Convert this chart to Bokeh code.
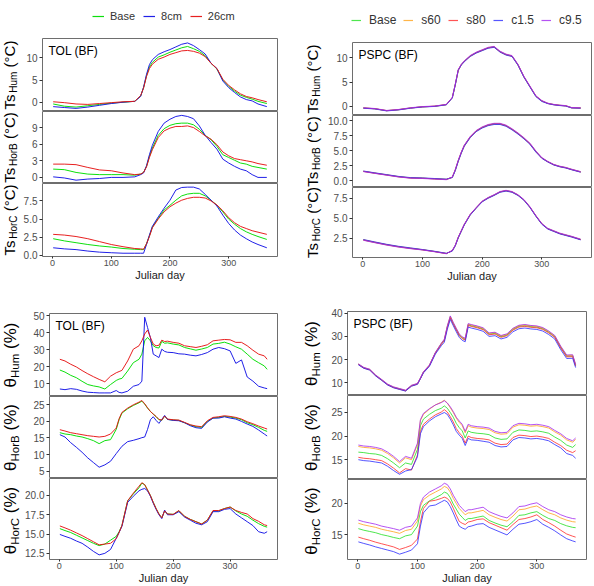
from math import pi

from bokeh.plotting import figure
from bokeh.layouts import column, row
from bokeh.core.properties import value
from bokeh.models import FixedTicker, PrintfTickFormatter, Label, Legend, LegendItem, Range1d
from bokeh.embed import file_html
from bokeh.resources import INLINE

FONT = "Liberation Sans"

# ---------------------------------------------------------------- data
days_t = [1, 20, 40, 60, 80, 100, 120, 140, 150, 155, 160, 165, 170, 180, 190, 200,
          210, 220, 230, 240, 250, 260, 270, 280, 290, 300, 310, 320, 330, 340, 350, 365]
days_m = [1, 10, 20, 30, 40, 50, 60, 70, 80, 90, 100, 105, 110, 120, 130, 140, 145, 150,
          155, 160, 165, 170, 175, 180, 185, 190, 200, 210, 220, 230, 240, 250, 260, 270,
          280, 290, 300, 310, 320, 330, 340, 350, 360, 365]

tol_names = ["Base", "8cm", "26cm"]
pspc_names = ["Base", "s60", "s80", "c1.5", "c9.5"]

# TOL soil temperature (°C)
tol_ts_hum_base = [-0.4, -0.9, -1.1, -0.8, -0.5, -0.2, 0.0, 0.2, 1.4, 3.3, 6.0, 8.0, 9.0, 10.2, 10.7, 11.3,
                   11.8, 12.3, 12.6, 12.1, 11.5, 10.5, 8.8, 7.5, 5.0, 3.6, 2.5, 1.6, 1.1, 0.7, 0.2, -0.3]
tol_ts_hum_8cm = [-1.0, -1.2, -1.4, -1.1, -0.7, -0.3, 0.0, 0.2, 1.3, 3.4, 6.3, 8.5, 9.6, 10.8, 11.4, 11.9,
                  12.5, 13.1, 13.4, 12.8, 11.9, 10.9, 8.8, 7.6, 4.8, 3.3, 2.2, 1.2, 0.6, 0.3, -0.4, -1.0]
tol_ts_hum_26cm = [0.1, -0.1, -0.4, -0.5, -0.3, -0.1, 0.1, 0.2, 1.5, 3.2, 5.8, 7.6, 8.6, 9.7, 10.2, 10.8,
                   11.2, 11.6, 11.7, 11.5, 11.1, 10.3, 8.8, 7.6, 5.2, 3.8, 2.8, 1.9, 1.3, 1.0, 0.6, 0.1]

tol_ts_horb_base = [1.5, 1.4, 0.9, 0.6, 0.5, 0.5, 0.5, 0.4, 0.6, 0.9, 2.0, 3.8, 5.3, 7.6, 8.8, 9.4,
                    9.7, 9.8, 9.8, 9.5, 8.7, 7.6, 6.8, 5.6, 4.1, 3.6, 3.1, 2.6, 2.4, 2.0, 1.8, 1.5]
tol_ts_horb_8cm = [0.1, -0.1, -0.5, -0.3, -0.2, 0.0, 0.0, 0.1, 0.5, 0.8, 2.1, 4.1, 5.8, 8.3, 9.8, 10.5,
                   11.0, 11.2, 11.0, 10.6, 9.3, 7.6, 6.3, 5.1, 3.3, 2.6, 2.0, 1.5, 1.2, 0.5, 0.0, 0.0]
tol_ts_horb_26cm = [2.4, 2.4, 2.3, 1.8, 1.35, 1.2, 0.8, 0.5, 0.6, 0.9, 1.9, 3.6, 5.0, 7.2, 8.4, 8.9,
                    9.2, 9.2, 9.3, 9.0, 8.3, 7.5, 6.9, 5.9, 4.6, 3.9, 3.4, 3.2, 3.0, 2.8, 2.5, 2.2]

tol_ts_horc_base = [2.3, 2.0, 1.75, 1.5, 1.3, 1.15, 0.95, 0.85, 0.8, 0.8, 1.6, 2.7, 3.9, 5.1, 6.25, 6.9,
                    7.6, 8.2, 8.45, 8.55, 8.55, 8.2, 7.6, 6.9, 6.0, 5.0, 4.3, 3.7, 3.25, 2.9, 2.6, 2.2]
tol_ts_horc_8cm = [1.05, 0.9, 0.8, 0.6, 0.45, 0.37, 0.3, 0.3, 0.3, 0.3, 1.5, 2.8, 4.0, 5.3, 6.5, 7.6,
                   9.0, 9.35, 9.4, 9.4, 9.15, 8.4, 7.6, 6.8, 5.55, 4.4, 3.5, 2.8, 2.3, 1.85, 1.5, 1.05]
tol_ts_horc_26cm = [2.9, 2.8, 2.6, 2.3, 1.9, 1.5, 1.2, 0.95, 0.9, 0.85, 1.6, 2.6, 3.8, 5.0, 6.0, 6.7,
                    7.2, 7.6, 7.85, 8.0, 8.0, 7.9, 7.5, 6.95, 6.15, 5.2, 4.5, 4.0, 3.7, 3.4, 3.2, 2.9]

# PSPC soil temperature (°C)
pspc_ts_hum_base = [-0.35, -0.5, -0.9, -0.7, -0.35, -0.1, 0.0, 0.35, 1.8, 4.5, 7.5, 8.6, 9.3, 10.4, 11.1, 11.6,
                    12.1, 12.3, 11.3, 10.7, 10.4, 8.6, 6.1, 4.1, 2.1, 1.1, 0.6, 0.35, 0.2, 0.1, -0.3, -0.35]
pspc_ts_hum_s60 = [-0.33, -0.52, -0.88, -0.72, -0.34, -0.12, 0.02, 0.33, 1.75, 4.4, 7.4, 8.55, 9.25, 10.35, 11.05, 11.55,
                   12.15, 12.25, 11.25, 10.65, 10.35, 8.55, 6.05, 4.05, 2.1, 1.1, 0.62, 0.37, 0.22, 0.12, -0.28, -0.33]
pspc_ts_hum_s80 = [-0.37, -0.48, -0.92, -0.68, -0.36, -0.1, 0.01, 0.36, 1.82, 4.55, 7.55, 8.62, 9.32, 10.42, 11.12, 11.62,
                   12.08, 12.32, 11.32, 10.72, 10.42, 8.62, 6.12, 4.12, 2.12, 1.12, 0.58, 0.33, 0.18, 0.08, -0.32, -0.37]
pspc_ts_hum_c15 = [-0.4, -0.55, -0.95, -0.75, -0.4, -0.15, -0.03, 0.3, 1.7, 4.4, 7.45, 8.5, 9.2, 10.3, 11.0, 11.5,
                   12.0, 12.2, 11.2, 10.6, 10.3, 8.5, 6.0, 4.0, 2.0, 1.0, 0.55, 0.3, 0.15, 0.05, -0.35, -0.4]
pspc_ts_hum_c95 = [-0.3, -0.45, -0.85, -0.65, -0.3, -0.05, 0.05, 0.4, 1.85, 4.6, 7.6, 8.7, 9.4, 10.5, 11.2, 11.7,
                   12.2, 12.4, 11.4, 10.8, 10.5, 8.7, 6.2, 4.2, 2.2, 1.2, 0.65, 0.4, 0.25, 0.15, -0.25, -0.3]

pspc_ts_horb_base = [1.6, 1.3, 1.0, 0.7, 0.5, 0.45, 0.35, 0.25, 0.6, 1.8, 3.35, 4.7, 5.85, 7.3, 8.3, 8.9,
                     9.3, 9.5, 9.5, 9.2, 8.6, 7.9, 7.1, 6.2, 4.9, 3.8, 3.2, 2.7, 2.4, 2.2, 1.9, 1.5]
pspc_ts_horb_s60 = [1.62, 1.32, 1.02, 0.72, 0.52, 0.46, 0.36, 0.26, 0.58, 1.75, 3.3, 4.65, 5.8, 7.25, 8.27, 8.88,
                    9.28, 9.48, 9.48, 9.18, 8.58, 7.88, 7.08, 6.18, 4.9, 3.8, 3.22, 2.72, 2.42, 2.22, 1.92, 1.52]
pspc_ts_horb_s80 = [1.58, 1.28, 0.98, 0.68, 0.48, 0.44, 0.34, 0.24, 0.62, 1.85, 3.4, 4.75, 5.9, 7.35, 8.33, 8.92,
                    9.32, 9.52, 9.52, 9.22, 8.62, 7.92, 7.12, 6.22, 4.92, 3.82, 3.18, 2.68, 2.38, 2.18, 1.88, 1.48]
pspc_ts_horb_c15 = [1.65, 1.35, 1.05, 0.75, 0.55, 0.5, 0.4, 0.3, 0.55, 1.7, 3.25, 4.6, 5.75, 7.2, 8.2, 8.8,
                    9.2, 9.4, 9.4, 9.1, 8.5, 7.8, 7.0, 6.1, 4.8, 3.75, 3.15, 2.65, 2.35, 2.15, 1.85, 1.45]
pspc_ts_horb_c95 = [1.55, 1.25, 0.95, 0.65, 0.45, 0.4, 0.3, 0.2, 0.65, 1.9, 3.45, 4.8, 5.95, 7.4, 8.4, 9.0,
                    9.4, 9.6, 9.6, 9.3, 8.7, 8.0, 7.2, 6.3, 5.0, 3.9, 3.25, 2.75, 2.45, 2.25, 1.95, 1.55]

pspc_ts_horc_base = [2.3, 2.0, 1.7, 1.45, 1.25, 1.07, 0.85, 0.6, 0.95, 1.6, 2.6, 3.4, 4.2, 5.45, 6.3, 7.1,
                     7.55, 7.9, 8.3, 8.45, 8.3, 7.9, 7.3, 6.4, 5.3, 4.3, 3.7, 3.4, 3.1, 2.9, 2.7, 2.35]
pspc_ts_horc_s60 = [2.32, 2.02, 1.72, 1.47, 1.27, 1.08, 0.86, 0.61, 0.93, 1.57, 2.57, 3.37, 4.17, 5.42, 6.28, 7.08,
                    7.54, 7.89, 8.29, 8.44, 8.29, 7.89, 7.29, 6.39, 5.3, 4.3, 3.71, 3.41, 3.11, 2.91, 2.71, 2.36]
pspc_ts_horc_s80 = [2.28, 1.98, 1.68, 1.43, 1.23, 1.06, 0.84, 0.59, 0.97, 1.63, 2.63, 3.43, 4.23, 5.48, 6.32, 7.12,
                    7.56, 7.91, 8.31, 8.46, 8.31, 7.91, 7.31, 6.41, 5.31, 4.31, 3.69, 3.39, 3.09, 2.89, 2.69, 2.34]
pspc_ts_horc_c15 = [2.35, 2.05, 1.75, 1.5, 1.3, 1.1, 0.88, 0.63, 0.9, 1.55, 2.55, 3.35, 4.15, 5.4, 6.25, 7.05,
                    7.5, 7.85, 8.25, 8.4, 8.25, 7.85, 7.25, 6.35, 5.25, 4.25, 3.65, 3.35, 3.05, 2.85, 2.65, 2.3]
pspc_ts_horc_c95 = [2.25, 1.95, 1.65, 1.4, 1.2, 1.04, 0.82, 0.57, 1.0, 1.65, 2.65, 3.45, 4.25, 5.5, 6.35, 7.15,
                    7.6, 7.95, 8.35, 8.5, 8.35, 7.95, 7.35, 6.45, 5.35, 4.35, 3.75, 3.45, 3.15, 2.95, 2.75, 2.4]

# TOL soil moisture (%)
tol_th_hum_base = [18.1, 16.9, 15.0, 13.6, 11.5, 9.6, 8.8, 8.2, 7.0, 9.6, 12.0, 12.8, 13.2, 17.5, 22.4, 24.4,
                   27.4, 35.2, 37.2, 35.2, 32.3, 31.3, 31.0, 34.9, 33.8, 34.0, 33.3, 32.8, 31.3, 30.5, 29.7,
                   30.4, 31.3, 33.3, 33.7, 34.4, 33.3, 31.7, 30.3, 27.4, 24.4, 22.4, 20.5, 18.5]
tol_th_hum_8cm = [7.0, 6.6, 7.2, 6.8, 5.8, 5.1, 4.9, 4.7, 4.7, 4.7, 6.1, 5.0, 4.7, 5.7, 8.6, 9.6,
                  11.6, 49.0, 43.0, 37.0, 27.4, 26.4, 25.4, 30.3, 29.0, 28.5, 28.3, 27.6, 27.4, 26.8, 26.4,
                  27.2, 28.3, 30.3, 31.3, 30.6, 29.3, 22.0, 24.0, 14.0, 11.6, 8.6, 7.6, 7.2]
tol_th_hum_26cm = [24.4, 23.4, 21.5, 19.9, 17.8, 15.9, 14.2, 12.6, 11.2, 14.5, 16.5, 17.2, 17.9, 23.4, 30.3, 32.3,
                   35.2, 39.2, 41.5, 37.2, 33.3, 32.3, 32.6, 35.6, 34.8, 35.0, 34.3, 33.8, 32.3, 31.8, 31.3,
                   32.0, 32.9, 35.2, 35.6, 36.0, 35.8, 34.3, 34.3, 32.3, 29.7, 27.4, 26.4, 24.4]

tol_th_horb_base = [16.6, 16.2, 16.0, 15.6, 15.3, 14.8, 14.2, 13.3, 14.2, 14.5, 17.6, 20.5, 22.5, 23.8, 24.8, 25.6,
                    26.1, 25.2, 24.0, 23.0, 22.2, 21.4, 20.5, 20.3, 21.6, 20.6, 20.4, 20.3, 19.6, 18.9, 18.4,
                    18.2, 20.0, 21.0, 21.2, 21.5, 21.3, 21.0, 20.5, 19.6, 19.0, 18.2, 17.3, 17.0]
tol_th_horb_8cm = [16.0, 15.3, 13.6, 12.2, 10.7, 9.0, 7.6, 6.2, 6.9, 8.0, 10.3, 11.4, 12.5, 13.9, 14.3, 14.8,
                   15.1, 15.3, 17.6, 20.5, 21.4, 20.3, 19.4, 20.6, 21.8, 20.6, 20.3, 20.2, 19.6, 18.7, 18.1,
                   17.9, 19.8, 21.0, 21.0, 21.4, 21.0, 20.7, 20.0, 19.2, 18.5, 17.4, 16.2, 15.6]
tol_th_horb_26cm = [17.5, 17.1, 16.6, 16.3, 16.0, 15.7, 15.5, 15.3, 15.5, 16.2, 18.0, 20.8, 22.7, 24.0, 25.0, 25.8,
                    26.3, 25.3, 24.1, 23.0, 22.2, 21.5, 20.6, 20.4, 21.6, 20.7, 20.5, 20.4, 19.7, 19.0, 18.6,
                    18.4, 20.2, 21.2, 21.4, 21.7, 21.5, 21.2, 20.7, 19.9, 19.3, 18.6, 18.0, 17.7]

tol_th_horc_base = [15.7, 15.45, 15.2, 14.85, 14.5, 14.15, 13.8, 13.5, 13.7, 14.2, 14.7, 15.3, 16.1, 19.3, 20.2, 21.0,
                    21.6, 21.4, 20.7, 20.0, 19.1, 18.3, 17.6, 17.1, 18.0, 17.6, 17.55, 18.0, 17.3, 16.9, 16.6,
                    16.3, 16.8, 18.0, 18.0, 18.3, 18.5, 18.0, 17.6, 17.3, 16.8, 16.35, 16.0, 15.9]
tol_th_horc_8cm = [14.95, 14.7, 14.45, 14.1, 13.8, 13.3, 12.75, 12.3, 12.5, 13.0, 14.45, 15.2, 16.0, 19.1, 19.9, 20.6,
                   20.8, 20.9, 20.6, 19.9, 19.0, 18.2, 17.5, 17.0, 18.1, 17.5, 17.5, 17.9, 17.2, 16.8, 16.4,
                   16.2, 16.6, 17.9, 17.9, 18.2, 18.3, 17.6, 17.1, 16.6, 16.1, 15.3, 15.1, 15.3]
tol_th_horc_26cm = [16.05, 15.8, 15.5, 15.15, 14.8, 14.4, 14.0, 13.6, 13.7, 13.8, 14.4, 15.2, 16.1, 19.3, 20.3, 21.2,
                    21.65, 21.4, 20.7, 20.0, 19.1, 18.3, 17.6, 17.1, 18.0, 17.6, 17.55, 18.05, 17.3, 16.9, 16.6,
                    16.3, 16.8, 18.05, 18.05, 18.3, 18.5, 18.05, 17.8, 17.6, 17.0, 16.65, 16.2, 16.1]

# PSPC soil moisture (%)
pspc_th_hum_base = [18.0, 16.5, 15.7, 13.2, 11.3, 9.3, 8.1, 7.4, 6.7, 8.8, 9.6, 12.0, 14.6, 17.5, 22.9, 26.8,
                    28.4, 34.0, 38.3, 35.5, 33.0, 30.6, 29.3, 28.7, 35.0, 34.6, 34.0, 33.2, 31.0, 31.3, 29.9,
                    30.6, 33.0, 34.3, 34.6, 34.2, 34.0, 33.3, 31.8, 29.9, 25.3, 21.5, 21.6, 17.5]
pspc_th_hum_s60 = [18.1, 16.6, 15.8, 13.3, 11.4, 9.4, 8.2, 7.5, 6.8, 8.9, 9.7, 12.1, 14.7, 17.6, 23.0, 27.0,
                   28.7, 34.3, 38.6, 35.8, 33.3, 30.9, 29.6, 29.0, 35.3, 34.9, 34.3, 33.5, 31.3, 31.6, 30.2,
                   30.9, 33.3, 34.6, 34.9, 34.5, 34.3, 33.6, 32.1, 30.2, 25.6, 21.8, 21.9, 17.8]
pspc_th_hum_s80 = [17.9, 16.4, 15.6, 13.1, 11.2, 9.2, 8.0, 7.3, 6.6, 8.7, 9.5, 11.9, 14.5, 17.4, 22.8, 26.6,
                   28.1, 33.7, 38.0, 35.2, 32.7, 30.3, 29.0, 28.4, 34.7, 34.3, 33.7, 32.9, 30.7, 31.0, 29.6,
                   30.3, 32.7, 34.0, 34.3, 33.9, 33.7, 33.0, 31.5, 29.6, 25.0, 21.2, 21.3, 17.2]
pspc_th_hum_c15 = [17.8, 16.3, 15.5, 13.0, 11.1, 9.1, 7.9, 7.2, 6.5, 8.6, 9.4, 11.8, 14.3, 17.1, 22.4, 26.0,
                   27.5, 33.0, 37.3, 34.6, 32.0, 29.6, 28.3, 27.7, 34.0, 33.6, 33.0, 32.2, 30.0, 30.3, 28.9,
                   29.6, 32.0, 33.3, 33.6, 33.2, 33.0, 32.3, 30.8, 28.9, 24.3, 20.5, 20.6, 16.6]
pspc_th_hum_c95 = [18.2, 16.7, 15.9, 13.4, 11.5, 9.5, 8.3, 7.6, 6.9, 9.0, 9.8, 12.2, 14.8, 17.7, 23.1, 27.1,
                   28.8, 34.5, 38.8, 36.0, 33.5, 31.1, 29.8, 29.2, 35.5, 35.1, 34.5, 33.7, 31.5, 31.8, 30.4,
                   31.1, 33.5, 34.8, 35.1, 34.7, 34.5, 33.8, 32.3, 30.4, 25.8, 22.0, 22.1, 18.0]

pspc_th_horb_base = [16.6, 16.5, 16.3, 16.2, 15.9, 15.2, 14.3, 13.3, 14.3, 14.0, 17.2, 22.2, 23.6, 24.6, 25.4, 25.9,
                     26.4, 25.9, 25.0, 24.0, 22.7, 21.8, 21.1, 19.6, 21.1, 20.8, 20.6, 20.5, 20.3, 19.6, 19.3,
                     19.4, 20.8, 21.3, 21.2, 21.0, 21.1, 20.9, 20.6, 19.8, 19.1, 18.1, 17.6, 18.2]
pspc_th_horb_s60 = [17.8, 17.6, 17.5, 17.3, 17.0, 16.3, 15.4, 14.3, 15.4, 15.0, 18.2, 23.3, 24.6, 25.7, 26.6, 27.2,
                    27.6, 27.0, 26.0, 25.0, 23.8, 22.9, 22.2, 20.7, 22.2, 21.9, 21.7, 21.6, 21.4, 20.7, 20.4,
                    20.5, 21.9, 22.4, 22.3, 22.1, 22.2, 22.0, 21.7, 20.9, 20.2, 19.2, 18.7, 19.3]
pspc_th_horb_s80 = [15.5, 15.3, 15.2, 15.0, 14.8, 14.1, 13.2, 12.2, 13.1, 12.8, 16.0, 21.0, 22.5, 23.6, 24.5, 25.1,
                    25.6, 25.1, 24.1, 23.0, 21.6, 20.7, 20.0, 18.5, 20.0, 19.7, 19.5, 19.4, 19.2, 18.5, 18.2,
                    18.3, 19.7, 20.2, 20.1, 19.9, 20.0, 19.8, 19.5, 18.7, 18.0, 17.0, 16.5, 16.9]
pspc_th_horb_c15 = [15.0, 14.8, 14.7, 14.5, 14.3, 13.6, 12.7, 11.9, 12.6, 12.9, 15.6, 20.5, 22.0, 23.2, 24.1, 24.7,
                    25.0, 24.6, 23.6, 22.4, 21.0, 20.2, 19.5, 18.0, 19.5, 19.2, 19.1, 18.9, 18.7, 18.0, 17.7,
                    17.8, 19.2, 19.7, 19.6, 19.4, 19.5, 19.3, 19.0, 18.2, 17.5, 16.3, 15.9, 15.3]
pspc_th_horb_c95 = [18.1, 17.9, 17.8, 17.6, 17.3, 16.6, 15.7, 14.6, 15.7, 15.3, 18.5, 23.5, 24.8, 25.8, 26.6, 27.1,
                    27.5, 27.0, 26.2, 25.2, 24.0, 23.2, 22.5, 21.0, 22.5, 22.2, 22.0, 21.9, 21.7, 21.0, 20.7,
                    20.8, 22.2, 22.7, 22.6, 22.4, 22.5, 22.3, 22.0, 21.2, 20.5, 19.5, 19.0, 19.6]

pspc_th_horc_base = [16.0, 15.75, 15.55, 15.35, 15.05, 14.85, 14.6, 14.4, 14.85, 15.05, 16.4, 18.7, 19.7, 20.4, 20.9, 21.4,
                     21.8, 21.6, 20.9, 19.9, 19.1, 18.3, 17.8, 17.3, 17.6, 17.6, 17.8, 18.0, 17.3, 16.9, 16.55,
                     16.3, 17.1, 18.1, 18.2, 18.5, 18.7, 18.1, 17.6, 17.3, 16.8, 16.45, 16.2, 16.15]
pspc_th_horc_s60 = [16.85, 16.6, 16.4, 16.2, 15.9, 15.7, 15.5, 15.25, 15.7, 15.9, 17.2, 19.6, 20.6, 21.3, 21.8, 22.3,
                    22.7, 22.5, 21.8, 20.8, 20.0, 19.2, 18.7, 18.2, 18.5, 18.5, 18.7, 18.9, 18.2, 17.8, 17.45,
                    17.2, 18.0, 19.0, 19.1, 19.4, 19.6, 19.0, 18.5, 18.2, 17.7, 17.35, 17.1, 17.05]
pspc_th_horc_s80 = [14.65, 14.4, 14.15, 13.85, 13.6, 13.35, 13.1, 12.7, 13.0, 13.35, 14.35, 17.1, 19.2, 20.35, 20.5, 20.8,
                    21.0, 20.8, 20.25, 19.25, 18.15, 17.15, 16.85, 16.65, 17.05, 17.15, 17.45, 17.55, 16.95, 16.55, 16.15,
                    15.75, 16.65, 17.45, 17.6, 17.85, 18.2, 17.45, 16.95, 16.4, 15.75, 15.15, 14.8, 14.65]
pspc_th_horc_c15 = [13.9, 13.65, 13.4, 13.1, 12.85, 12.6, 12.35, 11.95, 12.25, 12.6, 13.6, 16.4, 18.5, 19.6, 19.75, 20.25,
                    20.5, 20.25, 19.5, 18.5, 17.4, 16.4, 16.1, 15.9, 16.3, 16.4, 16.7, 16.8, 16.2, 15.8, 15.4,
                    15.0, 15.9, 16.7, 16.85, 17.1, 17.45, 16.7, 16.2, 15.65, 15.0, 14.4, 14.05, 13.9]
pspc_th_horc_c95 = [17.35, 17.1, 16.9, 16.7, 16.4, 16.2, 16.0, 15.75, 16.2, 16.4, 17.7, 20.0, 21.0, 21.8, 22.3, 22.8,
                    23.2, 23.0, 22.3, 21.3, 20.5, 19.7, 19.2, 18.7, 19.0, 19.0, 19.2, 19.4, 18.7, 18.3, 17.95,
                    17.7, 18.5, 19.5, 19.6, 19.9, 20.1, 19.5, 19.0, 18.7, 18.2, 17.85, 17.6, 17.55]

tol_colors = ["#00dd00", "#1414e6", "#e61414"]
pspc_colors = ["#22e022", "#ffa31a", "#ff2a2a", "#2a2aff", "#a328f0"]

# ---------------------------------------------------------------- helpers
# Arial-compatible advance widths (em) used to stack the rotated axis-title pieces
ADV = {"T": .611, "s": .5, "H": .722, "u": .556, "m": .833, "o": .556, "r": .333, "B": .667,
       "C": .722, " ": .278, "(": .333, ")": .333, "°": .4, "%": .889, "θ": .556}


def text_width(s, size):
    return sum(ADV.get(c, .55) for c in s) * size


def blank_figure(w, h, xr=(0, 1), yr=(0, 1)):
    p = figure(width=w, height=h, min_border=0, x_range=Range1d(*xr), y_range=Range1d(*yr),
               x_axis_type=None, y_axis_type=None, output_backend="svg",
               toolbar_location=None, tools="")
    p.grid.visible = False
    p.outline_line_color = None
    p.background_fill_color = "white"
    p.border_fill_color = "white"
    return p


def subplot(fw, fh, bl, br, bt, bb, yr, yticks, yfmt, show_x):
    p = figure(width=bl + fw + br, height=bt + fh + bb,
               min_border_left=bl, min_border_right=br, min_border_top=bt, min_border_bottom=bb,
               x_range=Range1d(-17.2, 383.2), y_range=Range1d(*yr),
               output_backend="svg", toolbar_location=None, tools="")
    p.grid.visible = False
    p.outline_line_color = "#6e6e6e"
    p.outline_line_width = 1
    p.background_fill_color = "white"
    p.border_fill_color = "white"

    ya = p.yaxis[0]
    ya.ticker = FixedTicker(ticks=yticks)
    ya.formatter = PrintfTickFormatter(format=yfmt)
    ya.axis_line_color = None
    ya.major_tick_line_color = "#333333"
    ya.major_tick_out = 3
    ya.major_tick_in = 0
    ya.minor_tick_line_color = None
    ya.major_label_text_font = FONT
    ya.major_label_text_font_size = "10px"
    ya.major_label_text_color = "#4d4d4d"
    ya.major_label_standoff = 2

    xa = p.xaxis[0]
    if show_x:
        xa.ticker = FixedTicker(ticks=[0, 100, 200, 300])
        xa.axis_line_color = None
        xa.major_tick_line_color = "#333333"
        xa.major_tick_out = 2
        xa.major_tick_in = 0
        xa.minor_tick_line_color = None
        xa.major_label_text_font = FONT
        xa.major_label_text_font_size = "9px"
        xa.major_label_text_color = "#4d4d4d"
        xa.major_label_standoff = 1
        xa.axis_label = "Julian day"
        xa.axis_label_text_font = FONT
        xa.axis_label_text_font_style = "normal"
        xa.axis_label_text_font_size = "11px"
        xa.axis_label_text_color = "#1a1a1a"
        xa.axis_label_standoff = 0
    else:
        xa.visible = False
    return p


def ylabel_figure(cfg, heights, centers):
    """Narrow strip holding the rotated axis titles (symbol + subscript + unit)."""
    H = sum(heights)
    p = blank_figure(cfg["lw"], H, xr=(0, cfg["lw"]), yr=(0, H))
    big, small, cx = cfg["big"], cfg["small"], cfg["cx"]
    unit = cfg["unit"]
    for r, yc in zip(cfg["rows"], centers):
        w_main = text_width(cfg["sym"], big)
        w_sub = text_width(r["sub"], small)
        w_gap = text_width(" ", big)
        w_tail = text_width(unit, big)
        y0 = yc - (w_main + w_sub + w_gap + w_tail) / 2
        p.text(x=[cx, cx], y=[y0, y0 + w_main + w_sub + w_gap], text=[cfg["sym"], unit],
               angle=pi / 2, text_font=value(FONT), text_font_size=value(f"{big}px"),
               text_color="black", text_baseline="middle", text_align="left")
        p.text(x=[cx + 0.25 * big], y=[y0 + w_main], text=[r["sub"]],
               angle=pi / 2, text_font=value(FONT), text_font_size=value(f"{small}px"),
               text_color="black", text_baseline="middle", text_align="left")
    return p


def legend_figure(cfg):
    # the legend lines reuse the first row's series, kept outside the visible x range
    p = blank_figure(cfg["panel_w"], cfg["leg_h"], xr=(-60, -50), yr=(0, 1))
    rends = [p.line(cfg["days"], ys, line_color=c, line_width=1.2, line_alpha=cfg["alpha"])
             for ys, c in zip(cfg["rows"][0]["series"], cfg["colors"])]
    items = [LegendItem(label=nm, renderers=[rr]) for nm, rr in zip(cfg["names"], rends)]
    leg = Legend(items=items, orientation="horizontal", location=cfg["leg_loc"],
                 border_line_color=None, background_fill_alpha=0,
                 label_text_font=FONT, label_text_font_size=cfg["leg_font"],
                 label_text_color="#333333", glyph_width=cfg["leg_glyph"], glyph_height=10,
                 label_height=12, label_standoff=cfg["leg_standoff"],
                 spacing=cfg["leg_spacing"], padding=0, margin=0)
    p.add_layout(leg)
    return p


def build_panel(cfg):
    figs = []
    heights = []
    n = len(cfg["rows"])
    for i, r in enumerate(cfg["rows"]):
        last = i == n - 1
        bt = r.get("bt", 0)
        bb = cfg["bb"] if last else 0
        p = subplot(cfg["fw"], r["fh"], cfg["bl"], cfg["br"], bt, bb,
                    r["yr"], r["ticks"], r["fmt"], last)
        for ys, color in zip(r["series"], cfg["colors"]):
            p.line(cfg["days"], ys, line_color=color, line_width=1, line_alpha=cfg["alpha"])
        if i == 0:
            p.add_layout(Label(x=6, y=r["fh"] - 12, x_units="screen", y_units="screen",
                               text=cfg["title"], text_font=FONT, text_font_size="12px",
                               text_color="black", text_baseline="middle", text_align="left"))
        figs.append(p)
        heights.append(bt + r["fh"] + bb)

    # vertical centres of each frame, measured from the bottom of the strip
    centers = []
    H = sum(heights)
    top = 0
    for r in cfg["rows"]:
        top += r.get("bt", 0)
        centers.append(H - (top + r["fh"] / 2))
        top += r["fh"]

    body = row(ylabel_figure(cfg, heights, centers), column(*figs, spacing=0), spacing=0)
    if cfg.get("legend"):
        return column(legend_figure(cfg), body, spacing=0)
    return body


tol_temp = dict(
    days=days_t, colors=tol_colors, names=tol_names, alpha=0.95, title="TOL (BF)",
    panel_w=297, lw=20, fw=237, bl=20, br=20, bb=34, cx=9,
    sym="Ts", unit="(°C)", big=15, small=10,
    legend=True, leg_h=38, leg_loc=(92, 16), leg_font="11px", leg_glyph=12,
    leg_standoff=6, leg_spacing=8,
    rows=[
        dict(fh=73, yr=(-2.1, 14.4), ticks=[0, 5, 10], fmt="%d", sub="Hum",
             series=[tol_ts_hum_base, tol_ts_hum_8cm, tol_ts_hum_26cm]),
        dict(fh=72, yr=(-1.1, 11.9), ticks=[0, 3, 6, 9], fmt="%d", sub="HorB",
             series=[tol_ts_horb_base, tol_ts_horb_8cm, tol_ts_horb_26cm]),
        dict(fh=73, yr=(-0.15, 9.9), ticks=[0, 2.5, 5, 7.5], fmt="%.1f", sub="HorC",
             series=[tol_ts_horc_base, tol_ts_horc_8cm, tol_ts_horc_26cm]),
    ])

pspc_temp = dict(
    days=days_t, colors=pspc_colors, names=pspc_names, alpha=0.8, title="PSPC (BF)",
    panel_w=297, lw=28, fw=241, bl=25, br=3, bb=33, cx=15,
    sym="Ts", unit="(°C)", big=15, small=10,
    legend=True, leg_h=42, leg_loc=(54, 15), leg_font="12px", leg_glyph=10,
    leg_standoff=8, leg_spacing=7,
    rows=[
        dict(fh=73, yr=(-1.9, 13.2), ticks=[0, 5, 10], fmt="%d", sub="Hum",
             series=[pspc_ts_hum_base, pspc_ts_hum_s60, pspc_ts_hum_s80, pspc_ts_hum_c15, pspc_ts_hum_c95]),
        dict(fh=72, yr=(-1.1, 10.9), ticks=[0, 2.5, 5, 7.5, 10], fmt="%.1f", sub="HorB",
             series=[pspc_ts_horb_base, pspc_ts_horb_s60, pspc_ts_horb_s80, pspc_ts_horb_c15, pspc_ts_horb_c95]),
        dict(fh=70, yr=(0.1, 8.85), ticks=[2.5, 5, 7.5], fmt="%.1f", sub="HorC",
             series=[pspc_ts_horc_base, pspc_ts_horc_s60, pspc_ts_horc_s80, pspc_ts_horc_c15, pspc_ts_horc_c95]),
    ])

tol_moist = dict(
    days=days_m, colors=tol_colors, names=tol_names, alpha=0.95, title="TOL (BF)",
    panel_w=297, lw=22, fw=231, bl=24, br=20, bb=24, cx=10,
    sym="θ", unit="(%)", big=17, small=11.5,
    rows=[
        dict(fh=83, bt=23, yr=(2.6, 51.2), ticks=[10, 20, 30, 40, 50], fmt="%d", sub="Hum",
             series=[tol_th_hum_base, tol_th_hum_8cm, tol_th_hum_26cm]),
        dict(fh=82, yr=(2.8, 27.5), ticks=[5, 10, 15, 20, 25], fmt="%d", sub="HorB",
             series=[tol_th_horb_base, tol_th_horb_8cm, tol_th_horb_26cm]),
        dict(fh=84, yr=(11.7, 22.2), ticks=[12.5, 15, 17.5, 20], fmt="%.1f", sub="HorC",
             series=[tol_th_horc_base, tol_th_horc_8cm, tol_th_horc_26cm]),
    ])

pspc_moist = dict(
    days=days_m, colors=pspc_colors, names=pspc_names, alpha=0.8, title="PSPC (BF)",
    panel_w=297, lw=26, fw=239, bl=24, br=8, bb=24, cx=14,
    sym="θ", unit="(%)", big=17, small=11.5,
    rows=[
        dict(fh=84, bt=21, yr=(4.6, 40.7), ticks=[10, 20, 30, 40], fmt="%d", sub="Hum",
             series=[pspc_th_hum_base, pspc_th_hum_s60, pspc_th_hum_s80, pspc_th_hum_c15, pspc_th_hum_c95]),
        dict(fh=84, yr=(10.8, 28.6), ticks=[15, 20, 25], fmt="%d", sub="HorB",
             series=[pspc_th_horb_base, pspc_th_horb_s60, pspc_th_horb_s80, pspc_th_horb_c15, pspc_th_horb_c95]),
        dict(fh=83, yr=(11.1, 23.8), ticks=[15, 20], fmt="%d", sub="HorC",
             series=[pspc_th_horc_base, pspc_th_horc_s60, pspc_th_horc_s80, pspc_th_horc_c15, pspc_th_horc_c95]),
    ])

layout = column(
    row(build_panel(tol_temp), build_panel(pspc_temp), spacing=0),
    row(build_panel(tol_moist), build_panel(pspc_moist), spacing=0),
    spacing=0,
)

with open("out.html", "w") as f:
    f.write(file_html(layout, INLINE))
